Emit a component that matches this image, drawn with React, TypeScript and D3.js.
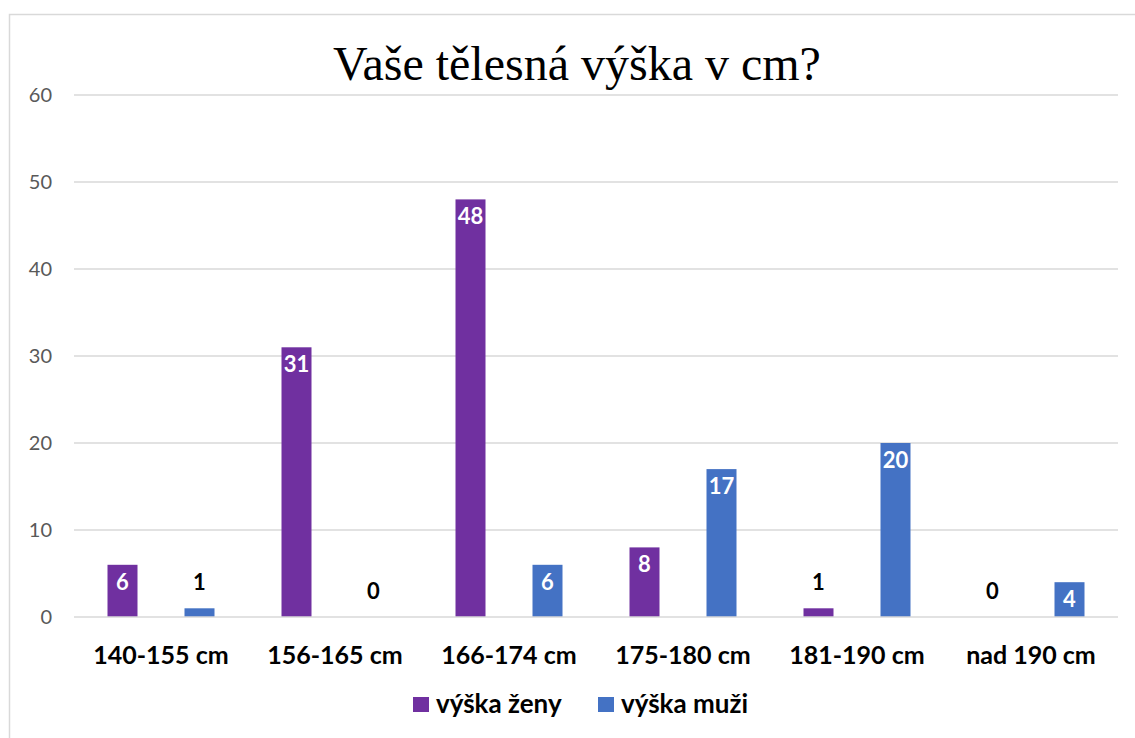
import React from "react";
import * as d3 from "d3";

const categories = ["140-155 cm", "156-165 cm", "166-174 cm", "175-180 cm", "181-190 cm", "nad 190 cm"];
const seriesNames = ["výška ženy", "výška muži"];
const zeny = [6, 31, 48, 8, 1, 0];
const muzi = [1, 0, 6, 17, 20, 4];
const yTicks = [0, 10, 20, 30, 40, 50, 60];
const colors = ["#7030A0", "#4472C4"];
const title = "Vaše tělesná výška v cm?";

const W = 1135, H = 738;
const plotL = 74, plotR = 1118, plotT = 95, plotB = 617;
const font = "Lato, 'Open Sans', 'Liberation Sans', sans-serif";

export default function App() {
  const x = d3.scaleBand<string>().domain(categories).range([plotL, plotR]).padding(0);
  const sub = d3.scaleBand<string>().domain(seriesNames).range([-38.5 - 15, 38.5 + 15]).paddingInner(47 / 30 / (1 + 47 / 30)).paddingOuter(0);
  const y = d3.scaleLinear().domain([0, 60]).range([plotB, plotT]);
  const series = [zeny, muzi];
  return (
    <svg width={W} height={H} style={{ position: "absolute", left: 0, top: 0, background: "#fff" }}>
      <rect x={9.5} y={14.5} width={1140} height={740} fill="#fff" stroke="#d9d9d9" strokeWidth={1.5} />
      <text x={577} y={80} textAnchor="middle" fontFamily="'Liberation Serif', 'Times New Roman', serif" fontSize={48} fill="#000">{title}</text>
      {yTicks.map((t) => (
        <g key={t}>
          {t !== 0 && <line x1={plotL} x2={plotR} y1={y(t)} y2={y(t)} stroke="#d9d9d9" strokeWidth={1.5} />}
          <text x={52} y={y(t)} dy="0.35em" textAnchor="end" fontFamily={font} fontSize={20} fill="#595959">{t}</text>
        </g>
      ))}
      {series.map((vals, si) =>
        vals.map((v, ci) => {
          const cx = (x(categories[ci]) as number) + x.bandwidth() / 2;
          const bx = cx + (sub(seriesNames[si]) as number);
          const bw = sub.bandwidth();
          const top = y(v);
          const inside = v >= 4;
          return (
            <g key={si + "-" + ci}>
              {v > 0 && <rect x={bx} y={top} width={bw} height={plotB - top} fill={colors[si]} />}
              <text x={bx + bw / 2} y={inside ? top + 17 : top - 26} dy="0.35em" textAnchor="middle" fontFamily={font} fontWeight="bold" fontSize={22} fill={inside ? "#fff" : "#000"}>{v}</text>
            </g>
          );
        })
      )}
      <line x1={plotL} x2={plotR} y1={plotB} y2={plotB} stroke="#d9d9d9" strokeWidth={1.5} />
      {categories.map((c) => (
        <text key={c} x={(x(c) as number) + x.bandwidth() / 2} y={655} dy="0.35em" textAnchor="middle" fontFamily={font} fontWeight="bold" fontSize={25} fill="#000">{c}</text>
      ))}
      {seriesNames.map((s, i) => {
        const lx = [413, 598][i];
        return (
          <g key={s}>
            <rect x={lx} y={697} width={16} height={15} fill={colors[i]} />
            <text x={lx + 23} y={704} dy="0.35em" fontFamily={font} fontWeight="bold" fontSize={26} fill="#000">{s}</text>
          </g>
        );
      })}
    </svg>
  );
}
